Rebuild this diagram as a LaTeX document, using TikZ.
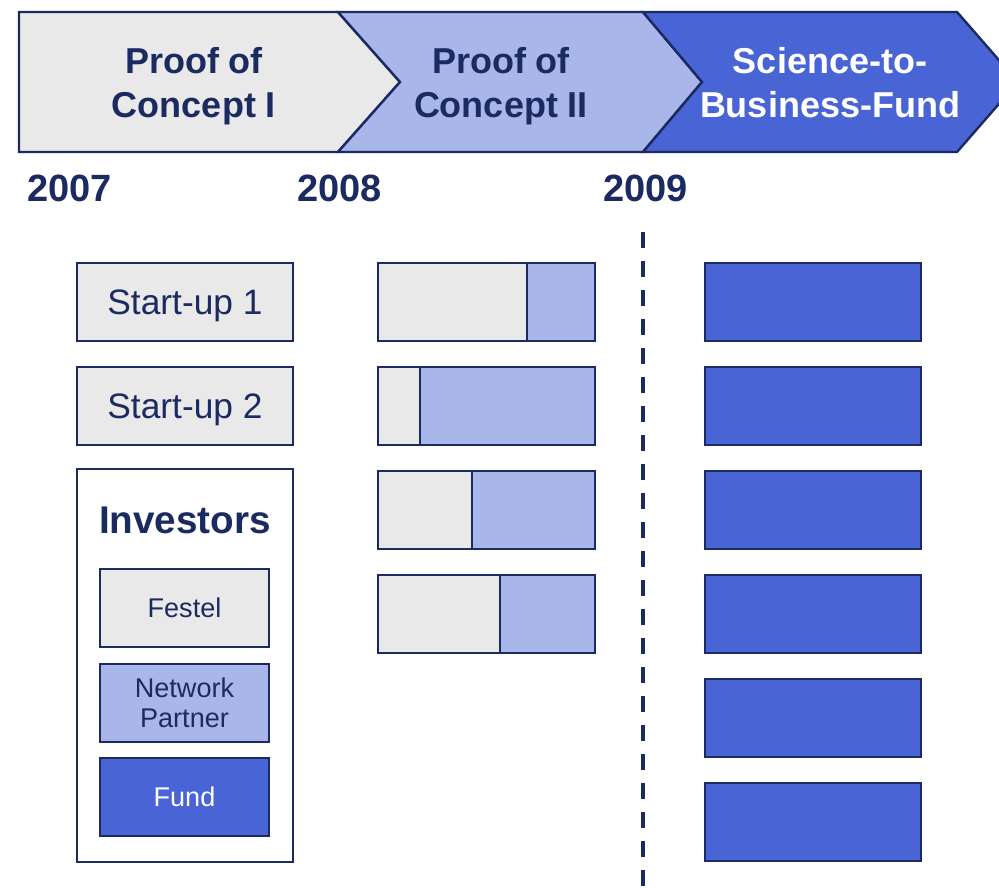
\documentclass[tikz,border=0pt]{standalone}
\usepackage{fontspec}
\setmainfont{Liberation Sans}
\definecolor{pgray}{HTML}{E9E9E9}
\definecolor{plight}{HTML}{A9B6EA}
\definecolor{pblue}{HTML}{4964D4}
\definecolor{pnavy}{HTML}{1B2A60}

\tikzset{
    phase/.style={draw=pnavy, line width=1.8pt, line join=miter},
    phasetext/.style={align=center, text=pnavy,
        font=\fontsize{27}{33}\selectfont\bfseries},
    year/.style={text=pnavy, inner sep=0pt,
        font=\fontsize{28.5}{30}\selectfont\bfseries},
    box/.style={draw=pnavy, line width=1.5pt, inner sep=0pt,
        minimum width=162pt, minimum height=58.5pt},
    legend/.style={box, minimum width=126.75pt, align=center, text=pnavy,
        font=\fontsize{20.3}{22.5}\selectfont},
    bar/.style={draw=pnavy, line width=1.5pt},
}

\begin{document}
\begin{tikzpicture}[x=0.75pt, y=-0.75pt]
    \useasboundingbox (0,0) rectangle (999,888);
    \draw [phase, fill=pgray]
        (19,12) -- (338,12) -- (400,82) -- (338,152) -- (19,152) -- cycle;
    \draw [phase, fill=plight]
        (338,12) -- (643,12) -- (702,82) -- (643,152) -- (338,152) -- (400,82) -- cycle;
    \draw [phase, fill=pblue]
        (643,12) -- (957,12) -- (1018,82) -- (957,152) -- (643,152) -- (702,82) -- cycle;
    \node [phasetext] (poc1) at (194,86) {Proof of\\Concept I};
    \node [phasetext] (poc2) at (501,86) {Proof of\\Concept II};
    \node [phasetext, text=white] (stbf) at (830,83) {Science-to-\\Business-Fund};
    \foreach \x/\yr in {69.5/2007, 339.5/2008, 645.5/2009} {
        \node [year] (y\yr) at (\x,188) {\yr};
    }
    \coordinate (dtop) at (643,232);
    \coordinate (dbot) at (643,900);
    \draw [pnavy, line width=3pt, dash pattern=on 12pt off 9.75pt] (dtop) -- (dbot);
    \foreach \y/\i in {302/1, 406/2} {
        \node [box, fill=pgray, text=pnavy, text depth=0pt,
            font=\fontsize{26.5}{30}\selectfont]
            (su\i) at (185,\y) {Start-up \i};
    }
    \node [box, fill=white, minimum height=294.75pt] (inv) at (185,665.5) {};
    \node [text=pnavy, font=\fontsize{29}{32}\selectfont\bfseries]
        (invtitle) at (185,520) {Investors};
    \node [legend, fill=pgray] (festel) at (184.5,608) {Festel};
    \node [legend, fill=plight] (partner) at (184.5,703) {Network\\Partner};
    \node [legend, fill=pblue, text=white] (fund) at (184.5,797) {Fund};
    \foreach \y/\s in {302/527, 406/420, 510/472, 614/500} {
        \draw [bar, fill=pgray] (378,\y-39) rectangle (\s,\y+39);
        \draw [bar, fill=plight] (\s,\y-39) rectangle (595,\y+39);
    }
    \foreach \y [count=\i] in {302, 406, 510, 614, 718, 822} {
        \node [box, fill=pblue] (s2b\i) at (813,\y) {};
    }
\end{tikzpicture}
\end{document}
